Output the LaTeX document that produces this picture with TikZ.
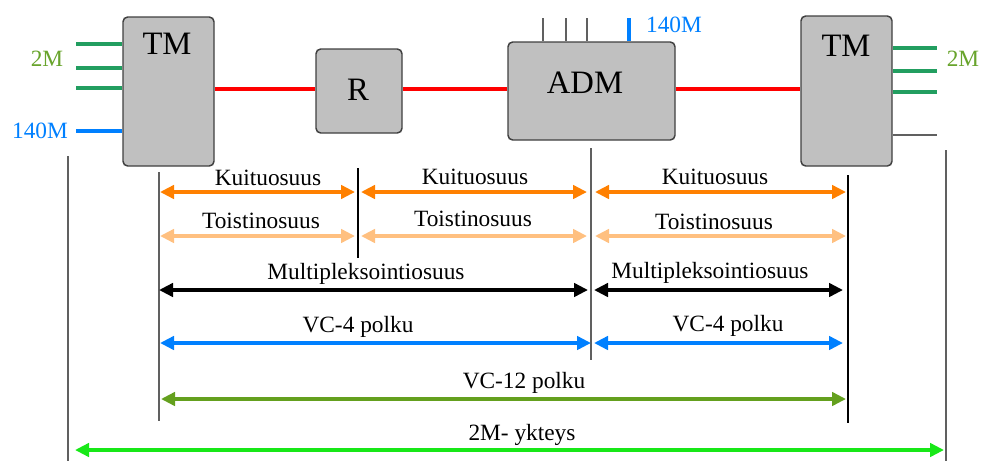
\documentclass[tikz,border=0pt]{standalone}
\usepackage{fontspec}
\setmainfont{Liberation Serif}
\usetikzlibrary{arrows.meta,fit}
\definecolor{boxgray}{RGB}{192,192,192}
\definecolor{boxedge}{RGB}{64,64,64}
\definecolor{portgreen}{RGB}{34,158,96}
\definecolor{labgreen}{RGB}{104,164,44}
\definecolor{sigblue}{RGB}{0,128,255}
\definecolor{fibre}{RGB}{255,128,0}
\definecolor{regen}{RGB}{255,192,128}
\definecolor{vcgreen}{RGB}{100,160,30}
\definecolor{linkgreen}{RGB}{24,232,24}
\definecolor{guide}{RGB}{96,96,96}
\tikzset{
  box/.style={draw=boxedge, fill=boxgray, rounded corners=3.5pt, line width=1.1pt, inner sep=0pt},
  boxtext/.style={anchor=base, inner sep=0pt, font=\fontsize{24.5}{28}\selectfont},
  lab/.style={anchor=base, inner sep=0pt, font=\fontsize{17.5}{20}\selectfont},
  fibreline/.style={draw=red, line width=3pt},
  port/.style={draw=portgreen, line width=2.4pt},
  bport/.style={draw=sigblue, line width=2.4pt},
  thinport/.style={draw=guide, line width=1pt},
  guideline/.style={draw=guide, line width=0.9pt},
  guideblack/.style={draw=black, line width=0.8pt},
  dim/.style={line width=2.6pt, {Triangle[length=10.5pt,width=10pt]}-{Triangle[length=10.5pt,width=10pt]}}
}
\begin{document}
\begin{tikzpicture}[x=0.75pt,y=-0.75pt]
\useasboundingbox (0,0) rectangle (981,461);

% network elements
\node[box, fit={(123,17) (214,166)}] (tml) {};
\node[box, fit={(316,49) (402,133)}] (rep) {};
\node[box, fit={(508,42) (675,140)}] (adm) {};
\node[box, fit={(801,16) (892,166)}] (tmr) {};
\node[boxtext] (tmltxt) at (167,54) {TM};
\node[boxtext] (reptxt) at (358,100) {R};
\node[boxtext] (admtxt) at (585,93) {ADM};
\node[boxtext] (tmrtxt) at (846,56) {TM};

% fibre links
\coordinate (fy) at (0,89);
\draw[fibreline] (tml.east |- fy) -- (rep.west |- fy);
\draw[fibreline] (rep.east |- fy) -- (adm.west |- fy);
\draw[fibreline] (adm.east |- fy) -- (tmr.west |- fy);

% tributary ports, left terminal
\coordinate (la) at (76,44);  \coordinate (lb) at (76,68);
\coordinate (lc) at (76,88);  \coordinate (ld) at (76,131);
\draw[port] (la) -- (tml.west |- la);
\draw[port] (lb) -- (tml.west |- lb);
\draw[port] (lc) -- (tml.west |- lc);
\draw[bport] (ld) -- (tml.west |- ld);
\node[lab, text=labgreen] (l2m) at (47,66) {2M};
\node[lab, text=sigblue] (l140) at (40,138) {140M};

% add/drop ports
\coordinate (aa) at (543,18); \coordinate (ab) at (566,18);
\coordinate (ac) at (587,18); \coordinate (ad) at (629,18);
\draw[thinport] (aa) -- (aa |- adm.north);
\draw[thinport] (ab) -- (ab |- adm.north);
\draw[thinport] (ac) -- (ac |- adm.north);
\draw[bport] (ad) -- (ad |- adm.north);
\node[lab, text=sigblue] (a140) at (674,32) {140M};

% tributary ports, right terminal
\coordinate (ra) at (937,48); \coordinate (rb) at (937,71);
\coordinate (rc) at (937,92); \coordinate (rd) at (937,135);
\draw[port] (tmr.east |- ra) -- (ra);
\draw[port] (tmr.east |- rb) -- (rb);
\draw[port] (tmr.east |- rc) -- (rc);
\draw[thinport, line width=1.4pt] (tmr.east |- rd) -- (rd);
\node[lab, text=labgreen] (r2m) at (963,66) {2M};

% section boundaries
\draw[guideline] (68,156) coordinate (g1t) -- (68,461) coordinate (g1b);
\draw[guideline] (159,172) coordinate (g2t) -- (159,421) coordinate (g2b);
\draw[guideblack] (358,168) coordinate (g3t) -- (358,258) coordinate (g3b);
\draw[guideline] (591,148) coordinate (g4t) -- (591,360) coordinate (g4b);
\draw[guideblack] (848,175) coordinate (g5t) -- (848,423) coordinate (g5b);
\draw[guideline] (946,150) coordinate (g6t) -- (946,461) coordinate (g6b);

% fibre sections
\draw[dim, fibre] (160,192) coordinate (k1a) -- (355,192) coordinate (k1b);
\draw[dim, fibre] (361,192) coordinate (k2a) -- (587,192) coordinate (k2b);
\draw[dim, fibre] (595,192) coordinate (k3a) -- (846,192) coordinate (k3b);
\node[lab] at (268,185) {Kuituosuus};
\node[lab] at (475,184) {Kuituosuus};
\node[lab] at (715,184) {Kuituosuus};

% regenerator sections
\draw[dim, regen] (160,236) coordinate (t1a) -- (355,236) coordinate (t1b);
\draw[dim, regen] (361,236) coordinate (t2a) -- (587,236) coordinate (t2b);
\draw[dim, regen] (595,236) coordinate (t3a) -- (846,236) coordinate (t3b);
\node[lab] at (261,228) {Toistinosuus};
\node[lab] at (473,226) {Toistinosuus};
\node[lab] at (714,229) {Toistinosuus};

% multiplex sections
\draw[dim, black] (159,290) coordinate (m1a) -- (588,290) coordinate (m1b);
\draw[dim, black] (594,290) coordinate (m2a) -- (843,290) coordinate (m2b);
\node[lab] at (366,279) {Multipleksointiosuus};
\node[lab] at (710,278) {Multipleksointiosuus};

% VC-4 paths
\draw[dim, sigblue] (160,343) coordinate (v1a) -- (591,343) coordinate (v1b);
\draw[dim, sigblue] (594,343) coordinate (v2a) -- (843,343) coordinate (v2b);
\node[lab] at (358,332) {VC-4 polku};
\node[lab] at (728,331) {VC-4 polku};

% VC-12 path
\draw[dim, vcgreen] (161,399) coordinate (w1a) -- (846,399) coordinate (w1b);
\node[lab] at (524,388) {VC-12 polku};

% end-to-end 2M connection
\draw[dim, linkgreen] (75,450) coordinate (e1a) -- (944,450) coordinate (e1b);
\node[lab] at (522,440) {2M- ykteys};
\end{tikzpicture}
\end{document}
